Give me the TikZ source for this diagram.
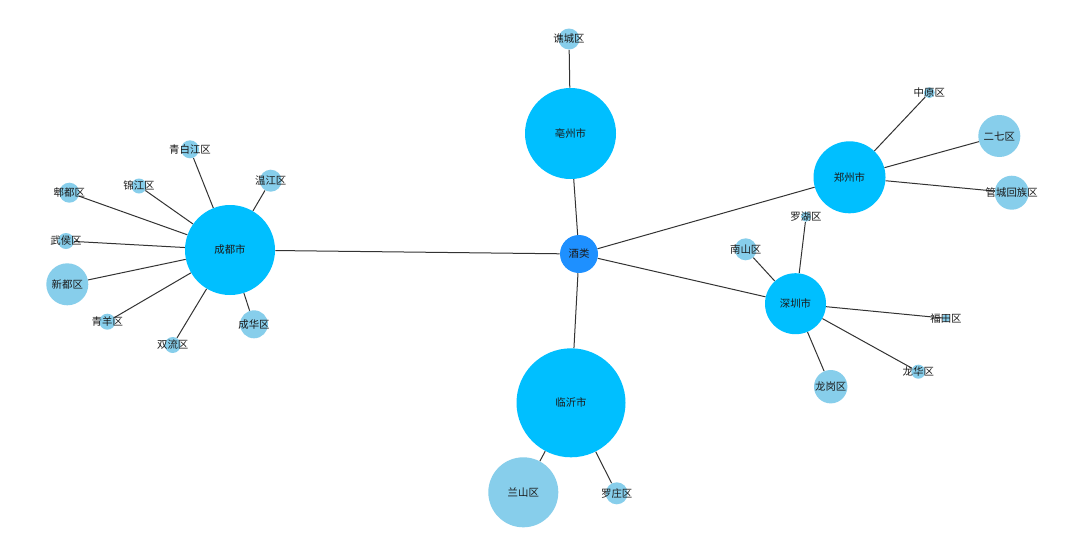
\documentclass[tikz,border=0pt]{standalone}
\usepackage{fontspec}
\newfontfamily\cjk{Noto Sans CJK SC}
\usetikzlibrary{backgrounds}
\definecolor{rootcol}{HTML}{1E90FF}
\definecolor{citycol}{HTML}{00BFFF}
\definecolor{distcol}{HTML}{87CEEB}
\definecolor{edgecol}{HTML}{333333}
\definecolor{txtcol}{HTML}{1A1A1A}
\tikzset{
  lab/.style={font=\cjk\fontsize{7.8}{9}\selectfont, text=txtcol, inner sep=0pt},
  bub/.style={circle, inner sep=0pt, draw=none, minimum size={#1*1.5pt}},
  rootnode/.style={bub=#1, fill=rootcol},
  citynode/.style={bub=#1, fill=citycol},
  distnode/.style={bub=#1, fill=distcol},
  link/.style={draw=edgecol, line width=0.75pt},
}
\begin{document}
\begin{tikzpicture}[x=0.75pt, y=-0.75pt]
\useasboundingbox (0,0) rectangle (1080,536);
% root
\node[rootnode=19, label={[lab]center:酒类}] (root) at (579,254) {};
% cities
\node[citynode=45.5, label={[lab]center:亳州市}] (bozhou) at (570.5,133.5) {};
\node[citynode=45, label={[lab]center:成都市}] (chengdu) at (230,250) {};
\node[citynode=36, label={[lab]center:郑州市}] (zhengzhou) at (849.5,177.3) {};
\node[citynode=30.5, label={[lab]center:深圳市}] (shenzhen) at (795.5,303.7) {};
\node[citynode=54.5, label={[lab]center:临沂市}] (linyi) at (571,402.8) {};
% bozhou districts
\node[distnode=10.5, label={[lab]center:谯城区}] (qiaocheng) at (569,39) {};
% chengdu districts
\node[distnode=9, label={[lab]center:青白江区}] (qingbaijiang) at (190,149.3) {};
\node[distnode=11, label={[lab]center:温江区}] (wenjiang) at (270.7,180.7) {};
\node[distnode=7.5, label={[lab]center:锦江区}] (jinjiang) at (139,186) {};
\node[distnode=10, label={[lab]center:郫都区}] (pidu) at (69.3,192.7) {};
\node[distnode=8, label={[lab]center:武侯区}] (wuhou) at (66,241) {};
\node[distnode=21, label={[lab]center:新都区}] (xindu) at (67.3,284.3) {};
\node[distnode=8, label={[lab]center:青羊区}] (qingyang) at (107.3,321.7) {};
\node[distnode=8, label={[lab]center:双流区}] (shuangliu) at (172.7,345) {};
\node[distnode=14, label={[lab]center:成华区}] (chenghua) at (254,324.3) {};
% zhengzhou districts
\node[distnode=5.5, label={[lab]center:中原区}] (zhongyuan) at (929.3,92.7) {};
\node[distnode=21, label={[lab]center:二七区}] (erqi) at (999.3,136) {};
\node[distnode=17, label={[lab]center:管城回族区}] (guancheng) at (1011.7,192.7) {};
% shenzhen districts
\node[distnode=5, label={[lab]center:罗湖区}] (luohu) at (806,216.7) {};
\node[distnode=11, label={[lab]center:南山区}] (nanshan) at (745.7,249.3) {};
\node[distnode=4, label={[lab]center:福田区}] (futian) at (946,318.3) {};
\node[distnode=7, label={[lab]center:龙华区}] (longhua) at (918.3,371.7) {};
\node[distnode=16.7, label={[lab]center:龙岗区}] (longgang) at (830.7,386.7) {};
% linyi districts
\node[distnode=35, label={[lab]center:兰山区}] (lanshan) at (523.3,492.3) {};
\node[distnode=11, label={[lab]center:罗庄区}] (luozhuang) at (616.7,493.3) {};
\begin{scope}[on background layer]
\fill[white] (0,0) rectangle (1080,536);
\foreach \c in {bozhou,chengdu,zhengzhou,shenzhen,linyi}
  \draw[link] (root) -- (\c);
\draw[link] (bozhou) -- (qiaocheng);
\foreach \d in {qingbaijiang,wenjiang,jinjiang,pidu,wuhou,xindu,qingyang,shuangliu,chenghua}
  \draw[link] (chengdu) -- (\d);
\foreach \d in {zhongyuan,erqi,guancheng}
  \draw[link] (zhengzhou) -- (\d);
\foreach \d in {luohu,nanshan,futian,longhua,longgang}
  \draw[link] (shenzhen) -- (\d);
\foreach \d in {lanshan,luozhuang}
  \draw[link] (linyi) -- (\d);
\end{scope}
\end{tikzpicture}
\end{document}
